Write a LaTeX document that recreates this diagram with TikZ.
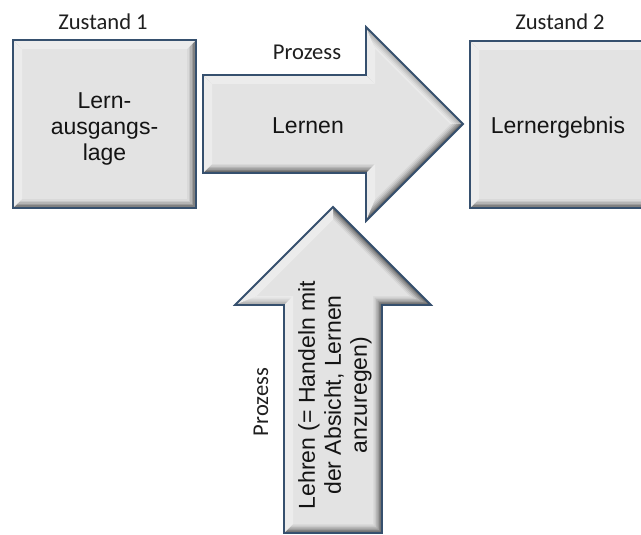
\documentclass[tikz,border=0pt]{standalone}
\usepackage{fontspec}
\setmainfont{Liberation Sans}
\newfontfamily\calfont{Carlito}
\definecolor{edgeblue}{HTML}{36506E}
\definecolor{lightbev}{HTML}{ECECEC}
\tikzset{
  lbl/.style={font=\calfont\fontsize{22.6}{26}\selectfont, text=black!88, inner sep=0pt},
  intext/.style={font=\fontsize{23}{26}\selectfont, text=black!92, inner sep=0pt, align=center},
  rim/.style={draw=edgeblue, line width=1.8pt, line join=miter},
  litebev/.style={fill=lightbev},
  softbev/.style={fill=white, fill opacity=0.45},
}
\newcommand\BoxPath[5]{({#1+#5},{#2+#5}) rectangle ({#3-#5},{#4-#5})}
\newcommand\RArrPath[1]{({203+#1},{75+#1}) -- ({366+#1},{75+#1}) -- ({366+#1},{27+2.41421*#1}) -- ({463-1.41421*#1},124) -- ({366+#1},{221-2.41421*#1}) -- ({366+#1},{173-#1}) -- ({203+#1},{173-#1}) -- cycle}
\newcommand\UArrPath[1]{(333,{207+1.41421*#1}) -- ({431-2.41421*#1},{305-#1}) -- ({382-#1},{305-#1}) -- ({382-#1},{533-#1}) -- ({284+#1},{533-#1}) -- ({284+#1},{305-#1}) -- ({235+2.41421*#1},{305-#1}) -- cycle}
\begin{document}
\begin{tikzpicture}[x=1pt,y=-1pt]
\useasboundingbox (0,0) rectangle (641,535);
\clip (0,0) rectangle (641,535);
\fill[white] (0,0) rectangle (641,535);
% shaded bands
\foreach \d/\c in {0/62,1.5/50,3/39,4.5/29,6/21,7.5/15,9/11}{
  \fill[black!\c] \BoxPath{13}{40}{196}{208}{\d};
  \fill[black!\c] \BoxPath{470}{41}{660}{208}{\d};
  \fill[black!\c] \RArrPath{\d};
  \fill[black!\c] \UArrPath{\d};
}
% light bevels: box 1
\fill[litebev] (13,40) -- (196,40) -- (187,49) -- (22,49) -- cycle;
\fill[litebev] (13,40) -- (22,49) -- (22,199) -- (13,208) -- cycle;
% box 2
\fill[litebev] (470,41) -- (660,41) -- (651,50) -- (479,50) -- cycle;
\fill[litebev] (470,41) -- (479,50) -- (479,199) -- (470,208) -- cycle;
% right arrow
\fill[litebev] (203,75) -- (366,75) -- (375,84) -- (212,84) -- cycle;
\fill[litebev] (366,75) -- (366,27) -- (375,48.73) -- (375,84) -- cycle;
\fill[litebev] (366,221) -- (366,173) -- (375,164) -- (375,199.27) -- cycle;
\fill[litebev] (203,173) -- (203,75) -- (212,84) -- (212,164) -- cycle;
\fill[softbev] (366,27) -- (463,124) -- (450.27,124) -- (375,48.73) -- cycle;
% up arrow
\fill[litebev] (235,305) -- (333,207) -- (333,219.73) -- (256.73,296) -- cycle;
\fill[litebev] (284,533) -- (284,305) -- (293,296) -- (293,524) -- cycle;
\fill[softbev] (235,305) -- (284,305) -- (293,296) -- (256.73,296) -- cycle;
% outlines
\draw[rim] \BoxPath{13}{40}{196}{208}{0};
\draw[rim] \BoxPath{470}{41}{660}{208}{0};
\draw[rim] \RArrPath{0};
\draw[rim] \UArrPath{0};
% texts
\node[lbl, anchor=base] (z1) at (103,30) {Zustand 1};
\node[lbl, anchor=base] (z2) at (560,30) {Zustand 2};
\node[lbl, anchor=base] (p1) at (307,59.5) {Prozess};
\node[lbl, anchor=base, rotate=90] (p2) at (268,402) {Prozess};
\node[intext] (t1) at (104.5,129) {Lern-\\ausgangs-\\lage};
\node[intext, anchor=base] (t2) at (308,133.5) {Lernen};
\node[intext, anchor=base] (t3) at (558,133.5) {Lernergebnis};
\node[intext, rotate=90] (t4) at (335,395) {Lehren (= Handeln mit\\der Absicht, Lernen\\anzuregen)};
\end{tikzpicture}
\end{document}
